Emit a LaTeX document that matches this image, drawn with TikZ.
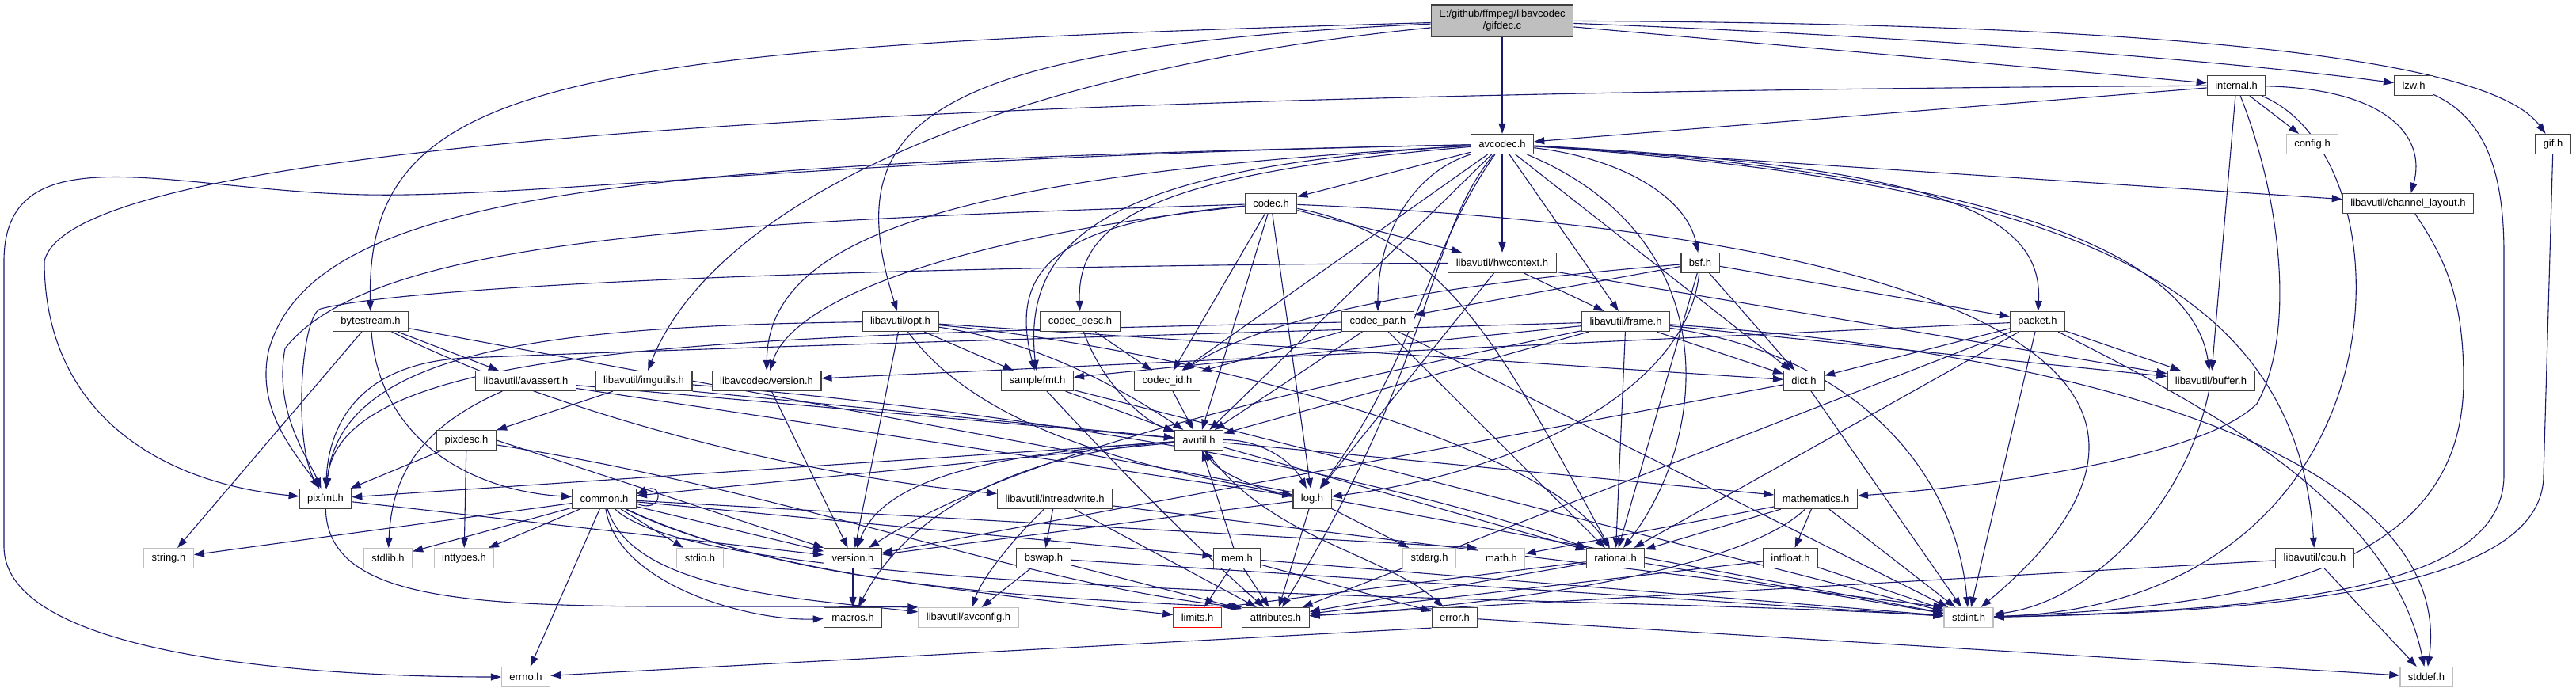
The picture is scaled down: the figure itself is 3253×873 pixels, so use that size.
\documentclass[tikz,border=0pt]{standalone}
\usepackage{fontspec}
\setmainfont{Liberation Sans}
\usetikzlibrary{arrows.meta,backgrounds}
\definecolor{edgeblue}{HTML}{191970}
\definecolor{nodeline}{HTML}{404040}
\definecolor{sysgray}{HTML}{BFBFBF}

\begin{document}
\begin{tikzpicture}[
    x=1pt, y=1pt,
    hdr/.style={draw=nodeline, fill=white, line width=1.2pt, minimum height=25pt, inner xsep=10pt, inner ysep=0pt, font=\fontsize{13}{15}\selectfont},
    sys/.style={hdr, draw=sysgray},
    cut/.style={hdr, draw=red},
    inc/.style={-{Triangle[length=13pt,width=9pt]}, draw=edgeblue, line width=1.1pt}
]
\useasboundingbox (0,0) rectangle (3253,-873);

\node[hdr, fill=sysgray, align=center, minimum height=40pt] (gifdec) at (1897,-26) {E:/github/ffmpeg/libavcodec\\/gifdec.c};
\node[hdr] (internal) at (2824,-108) {internal.h};
\node[hdr] (lzw) at (3048,-108) {lzw.h};
\node[hdr] (gif) at (3224,-182) {gif.h};
\node[hdr] (avcodec) at (1897,-182) {avcodec.h};
\node[sys] (config) at (2920,-182) {config.h};
\node[hdr] (codec) at (1605,-257) {codec.h};
\node[hdr] (chlayout) at (3041,-257) {libavutil/channel\_layout.h};
\node[hdr] (hwctx) at (1897,-332) {libavutil/hwcontext.h};
\node[hdr] (bsf) at (2147,-332) {bsf.h};
\node[hdr] (bytestream) at (468,-406) {bytestream.h};
\node[hdr] (opt) at (1137,-406) {libavutil/opt.h};
\node[hdr] (codecdesc) at (1364,-406) {codec\_desc.h};
\node[hdr] (codecpar) at (1740,-406) {codec\_par.h};
\node[hdr] (frame) at (2053,-406) {libavutil/frame.h};
\node[hdr] (packet) at (2573,-406) {packet.h};
\node[hdr] (avassert) at (664,-481) {libavutil/avassert.h};
\node[hdr] (imgutils) at (813,-481) {libavutil/imgutils.h};
\node[hdr] (lavcver) at (968,-481) {libavcodec/version.h};
\node[hdr] (samplefmt) at (1310,-481) {samplefmt.h};
\node[hdr] (codecid) at (1474,-481) {codec\_id.h};
\node[hdr] (dict) at (2278,-481) {dict.h};
\node[hdr] (buffer) at (2792,-481) {libavutil/buffer.h};
\node[hdr] (pixdesc) at (589,-556) {pixdesc.h};
\node[hdr] (avutil) at (1514,-556) {avutil.h};
\node[hdr] (pixfmt) at (411,-630) {pixfmt.h};
\node[hdr] (common) at (763,-630) {common.h};
\node[hdr] (intrw) at (1332,-630) {libavutil/intreadwrite.h};
\node[hdr] (log) at (1657,-630) {log.h};
\node[hdr] (mathem) at (2293,-630) {mathematics.h};
\node[sys] (string) at (213,-705) {string.h};
\node[sys] (stdlib) at (490,-705) {stdlib.h};
\node[sys] (inttypes) at (586,-705) {inttypes.h};
\node[sys] (stdio) at (884,-705) {stdio.h};
\node[hdr] (version) at (1077,-705) {version.h};
\node[hdr] (bswap) at (1318,-705) {bswap.h};
\node[hdr] (mem) at (1562,-705) {mem.h};
\node[sys] (stdarg) at (1805,-705) {stdarg.h};
\node[sys] (math) at (1896,-705) {math.h};
\node[hdr] (rational) at (2040,-705) {rational.h};
\node[hdr] (intfloat) at (2261,-705) {intfloat.h};
\node[hdr] (cpu) at (2923,-705) {libavutil/cpu.h};
\node[hdr] (macros) at (1077,-780) {macros.h};
\node[sys] (avconfig) at (1223,-780) {libavutil/avconfig.h};
\node[cut] (limits) at (1512,-780) {limits.h};
\node[hdr] (attributes) at (1611,-780) {attributes.h};
\node[hdr] (error) at (1837,-780) {error.h};
\node[sys] (stdint) at (2486,-780) {stdint.h};
\node[sys] (errno) at (664,-855) {errno.h};
\node[sys] (stddef) at (3064,-855) {stddef.h};

\begin{scope}[on background layer]
\fill[white] (0,0) rectangle (3253,-873);
\draw[inc] (gifdec) -- (avcodec);
\draw[inc] (gifdec) -- (internal);
\draw[inc] (gifdec) .. controls (2400,-45) and (2800,-75) .. (lzw);
\draw[inc] (gifdec) .. controls (2800,-30) and (3150,-80) .. (gif);
\draw[inc] (gifdec) .. controls (700,-60) and (462,-100) .. (bytestream);
\draw[inc] (gifdec) .. controls (1150,-60) and (1060,-160) .. (opt);
\draw[inc] (gifdec) .. controls (1250,-90) and (900,-260) .. (imgutils);
\draw[inc] (internal) -- (avcodec);
\draw[inc] (internal) .. controls (1200,-118) and (90,-175) .. (56,-330) .. controls (56,-520) and (200,-610) .. (pixfmt);
\draw[inc] (internal) -- (config);
\draw[inc] (internal) .. controls (3010,-112) and (3065,-170) .. (chlayout);
\draw[inc] (internal) .. controls (2880,-250) and (2900,-420) .. (2850,-510) .. controls (2780,-580) and (2500,-615) .. (mathem);
\draw[inc] (internal) -- (buffer);
\draw[inc] (internal) .. controls (3050,-200) and (3050,-760) .. (stdint);
\draw[inc] (lzw) .. controls (3140,-150) and (3162,-220) .. (3162,-320) -- (3162,-600) .. controls (3162,-740) and (2900,-770) .. (stdint);
\draw[inc] (gif) -- (3212,-600) .. controls (3212,-740) and (2900,-772) .. (stdint);
\draw[inc] (chlayout) .. controls (3090,-330) and (3111,-380) .. (3111,-480) .. controls (3111,-720) and (2850,-765) .. (stdint);
\draw[inc] (avcodec) .. controls (1000,-200) and (650,-255) .. (430,-245) .. controls (200,-235) and (5,-170) .. (5,-330) -- (5,-690) .. controls (5,-830) and (400,-855) .. (errno);
\draw[inc] (avcodec) .. controls (1400,-210) and (1290,-300) .. (samplefmt);
\draw[inc] (avcodec) .. controls (1800,-300) and (1815,-450) .. (attributes);
\draw[inc] (avcodec) -- (avutil);
\draw[inc] (avcodec) .. controls (2550,-220) and (2770,-330) .. (buffer);
\draw[inc] (avcodec) .. controls (2600,-230) and (2900,-350) .. (cpu);
\draw[inc] (avcodec) -- (chlayout);
\draw[inc] (avcodec) -- (dict);
\draw[inc] (avcodec) -- (frame);
\draw[inc] (avcodec) -- (hwctx);
\draw[inc] (avcodec) .. controls (1800,-320) and (1790,-450) .. (log);
\draw[inc] (avcodec) .. controls (800,-205) and (400,-240) .. (340,-440) .. controls (320,-520) and (380,-580) .. (pixfmt);
\draw[inc] (avcodec) .. controls (2180,-300) and (2160,-550) .. (rational);
\draw[inc] (avcodec) .. controls (2050,-200) and (2130,-250) .. (bsf);
\draw[inc] (avcodec) -- (codec);
\draw[inc] (avcodec) .. controls (1450,-220) and (1360,-280) .. (codecdesc);
\draw[inc] (avcodec) .. controls (1780,-220) and (1740,-300) .. (codecpar);
\draw[inc] (avcodec) -- (codecid);
\draw[inc] (avcodec) .. controls (2450,-210) and (2580,-270) .. (packet);
\draw[inc] (avcodec) .. controls (1200,-220) and (970,-300) .. (lavcver);
\draw[inc] (codec) .. controls (2400,-290) and (2880,-450) .. (stdint);
\draw[inc] (codec) -- (avutil);
\draw[inc] (codec) -- (hwctx);
\draw[inc] (codec) -- (log);
\draw[inc] (codec) .. controls (900,-280) and (470,-300) .. (360,-440) .. controls (345,-520) and (390,-580) .. (pixfmt);
\draw[inc] (codec) .. controls (1830,-300) and (1900,-450) .. (rational);
\draw[inc] (codec) .. controls (1350,-280) and (1270,-330) .. (samplefmt);
\draw[inc] (codec) -- (codecid);
\draw[inc] (codec) .. controls (1200,-300) and (1000,-380) .. (lavcver);
\draw[inc] (codecdesc) .. controls (1390,-480) and (1440,-530) .. (avutil);
\draw[inc] (codecdesc) -- (codecid);
\draw[inc] (codecid) -- (avutil);
\draw[inc] (codecpar) -- (stdint);
\draw[inc] (codecpar) -- (avutil);
\draw[inc] (codecpar) -- (rational);
\draw[inc] (codecpar) .. controls (900,-425) and (430,-435) .. (pixfmt);
\draw[inc] (codecpar) -- (codecid);
\draw[inc] (bsf) -- (dict);
\draw[inc] (bsf) .. controls (2130,-500) and (1900,-600) .. (log);
\draw[inc] (bsf) -- (rational);
\draw[inc] (bsf) .. controls (1800,-360) and (1600,-400) .. (codecid);
\draw[inc] (bsf) -- (codecpar);
\draw[inc] (bsf) -- (packet);
\draw[inc] (packet) .. controls (2800,-520) and (3020,-640) .. (stddef);
\draw[inc] (packet) -- (stdint);
\draw[inc] (packet) -- (attributes);
\draw[inc] (packet) -- (buffer);
\draw[inc] (packet) -- (dict);
\draw[inc] (packet) -- (rational);
\draw[inc] (packet) -- (lavcver);
\draw[inc] (lavcver) -- (version);
\draw[inc] (hwctx) -- (buffer);
\draw[inc] (hwctx) -- (frame);
\draw[inc] (hwctx) -- (log);
\draw[inc] (hwctx) .. controls (1100,-336) and (520,-360) .. (405,-390) .. controls (380,-397) and (370,-560) .. (pixfmt);
\draw[inc] (frame) .. controls (2700,-450) and (3100,-600) .. (stddef);
\draw[inc] (frame) .. controls (2350,-450) and (2470,-600) .. (stdint);
\draw[inc] (frame) -- (avutil);
\draw[inc] (frame) -- (buffer);
\draw[inc] (frame) -- (dict);
\draw[inc] (frame) -- (rational);
\draw[inc] (frame) -- (samplefmt);
\draw[inc] (frame) .. controls (1400,-425) and (880,-440) .. (590,-452) .. controls (450,-458) and (415,-540) .. (pixfmt);
\draw[inc] (frame) .. controls (1700,-480) and (1300,-560) .. (version);
\draw[inc] (buffer) .. controls (2760,-640) and (2640,-760) .. (stdint);
\draw[inc] (dict) -- (stdint);
\draw[inc] (dict) -- (version);
\draw[inc] (avutil) -- (common);
\draw[inc] (avutil) .. controls (1600,-680) and (1750,-700) .. (error);
\draw[inc] (avutil) -- (rational);
\draw[inc] (avutil) .. controls (1200,-575) and (1110,-620) .. (version);
\draw[inc] (avutil) .. controls (1300,-570) and (1150,-640) .. (macros);
\draw[inc] (avutil) -- (mathem);
\draw[inc] (avutil) .. controls (1590,-555) and (1630,-580) .. (log);
\draw[inc] (avutil) -- (pixfmt);
\draw[inc] (log) -- (stdarg);
\draw[inc] (log) .. controls (1610,-625) and (1540,-600) .. (avutil);
\draw[inc] (log) -- (attributes);
\draw[inc] (log) -- (version);
\draw[inc] (common) -- (errno);
\draw[inc] (common) -- (inttypes);
\draw[inc] (common) .. controls (950,-720) and (1200,-745) .. (limits);
\draw[inc] (common) -- (math.north west);
\draw[inc] (common) .. controls (900,-760) and (2000,-750) .. (stdint);
\draw[inc] (common) -- (stdio);
\draw[inc] (common) -- (stdlib);
\draw[inc] (common) -- (string);
\draw[inc] (common) .. controls (1000,-740) and (1300,-755) .. (attributes.north west);
\draw[inc] (common) .. controls (780,-740) and (950,-785) .. (macros);
\draw[inc] (common) -- (version);
\draw[inc] (common) .. controls (800,-745) and (1000,-755) .. (avconfig);
\draw[inc] (common) -- (mem);
\draw[inc] ([yshift=-6pt]common.east) .. controls (838,-650) and (838,-608) .. ([yshift=6pt]common.east);
\draw[inc] (mem) -- (limits);
\draw[inc] (mem) -- (stdint);
\draw[inc] (mem) -- (attributes);
\draw[inc] (mem) -- (error);
\draw[inc] (mem) -- (avutil);
\draw[inc] (error.south west) -- (errno);
\draw[inc] (error) -- (stddef);
\draw[inc] (rational) -- (stdint);
\draw[inc] (rational) -- (limits.north east);
\draw[inc] (rational) -- (attributes);
\draw[inc] (mathem) -- (stdint);
\draw[inc] (mathem) -- (math);
\draw[inc] (mathem) .. controls (2200,-720) and (1900,-765) .. (attributes);
\draw[inc] (mathem) -- (rational);
\draw[inc] (mathem) -- (intfloat);
\draw[inc] (intfloat) -- (stdint);
\draw[inc] (intfloat) -- (attributes);
\draw[inc] (samplefmt) -- (avutil);
\draw[inc] (samplefmt) .. controls (1420,-600) and (1520,-700) .. (attributes);
\draw[inc] (samplefmt) -- (stdint);
\draw[inc] (opt) .. controls (1500,-440) and (1950,-560) .. (rational);
\draw[inc] (opt) .. controls (1300,-430) and (1400,-480) .. (avutil);
\draw[inc] (opt) -- (dict);
\draw[inc] (opt) .. controls (1250,-560) and (1500,-600) .. (log);
\draw[inc] (opt) .. controls (700,-412) and (430,-440) .. (pixfmt);
\draw[inc] (opt) -- (samplefmt);
\draw[inc] (opt) -- (version);
\draw[inc] (imgutils.south east) -- (avutil);
\draw[inc] (imgutils) -- (pixdesc);
\draw[inc] (imgutils) .. controls (1300,-520) and (1750,-600) .. (rational);
\draw[inc] (pixdesc) -- (inttypes);
\draw[inc] (pixdesc) .. controls (1000,-620) and (1300,-740) .. (attributes.north west);
\draw[inc] (pixdesc) -- (pixfmt);
\draw[inc] (pixdesc.east) -- (version.north west);
\draw[inc] (avassert) .. controls (530,-540) and (495,-600) .. (stdlib);
\draw[inc] (avassert) -- (avutil);
\draw[inc] (avassert) -- (log);
\draw[inc] (intrw) -- (stdint.north west);
\draw[inc] (intrw) .. controls (1280,-680) and (1240,-730) .. (avconfig);
\draw[inc] (intrw) -- (attributes);
\draw[inc] (intrw) -- (bswap);
\draw[inc] (bswap) -- (stdint);
\draw[inc] (bswap) -- (avconfig);
\draw[inc] (bswap) -- (attributes);
\draw[inc] (pixfmt) .. controls (415,-790) and (700,-762) .. (avconfig.north west);
\draw[inc] (pixfmt) -- (version);
\draw[inc] (version) -- (macros);
\draw[inc] (bytestream) -- (stdint);
\draw[inc] (bytestream) -- (string);
\draw[inc] (bytestream) -- (avassert);
\draw[inc] (bytestream) .. controls (480,-560) and (600,-620) .. (common);
\draw[inc] (bytestream) .. controls (700,-520) and (1000,-600) .. (intrw);
\draw[inc] (cpu) -- (stddef);
\draw[inc] (cpu) -- (attributes);
\end{scope}
\end{tikzpicture}
\end{document}
